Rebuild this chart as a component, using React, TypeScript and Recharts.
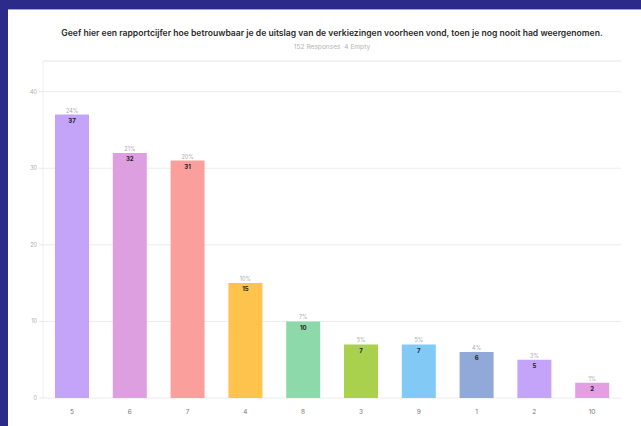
import React from "react";
import { BarChart, Bar, XAxis, YAxis, CartesianGrid, Cell, LabelList, ReferenceLine } from "recharts";

const categories = ["5", "6", "7", "4", "8", "3", "9", "1", "2", "10"];
const counts = [37, 32, 31, 15, 10, 7, 7, 6, 5, 2];
const percents = ["24%", "21%", "20%", "10%", "7%", "5%", "5%", "4%", "3%", "1%"];
const colors = ["#c3a4f8", "#de9fe1", "#fb9f9d", "#fdc34d", "#8ed9a9", "#a9d14d", "#82c9f5", "#90a9d8", "#c3a4f8", "#e2a0e3"];
const yTicks = [0, 10, 20, 30, 40];
const title = "Geef hier een rapportcijfer hoe betrouwbaar je de uitslag van de verkiezingen voorheen vond, toen je nog nooit had weergenomen.";
const subtitle = "152 Responses  4 Empty";

const data = categories.map((c, i) => ({ name: c, value: counts[i], pct: percents[i] }));

const font = "Inter, 'Noto Sans', sans-serif";

export default function App() {
  return (
    <div style={{ position: "absolute", left: 0, top: 0, width: 641, height: 426, background: "#2c2b89", overflow: "hidden", fontFamily: font }}>
      <div style={{ position: "absolute", left: 8, top: 9, width: 633, height: 1, background: "#a5a4d8" }} />
      <div style={{ position: "absolute", left: 8, top: 10, width: 633, height: 416, background: "#ffffff" }}>
        <div style={{ position: "absolute", left: 0, top: 18, width: 648, textAlign: "center", fontSize: 8.6, fontWeight: 600, color: "#2a2a2a", whiteSpace: "nowrap" }}>{title}</div>
        <div style={{ position: "absolute", left: 0, top: 33, width: 648, textAlign: "center", fontSize: 6.6, color: "#b4b4b4", whiteSpace: "pre" }}>{subtitle}</div>
        <div style={{ position: "absolute", left: 0, top: 0 }}>
          <BarChart width={633} height={416} data={data} margin={{ top: 51, right: 20, bottom: 8, left: 0 }} barSize={34}>
            <CartesianGrid vertical={false} stroke="#ececec" />
            <ReferenceLine y={44} stroke="#eeeeee" />
            <XAxis dataKey="name" axisLine={false} tickLine={false} height={20} tick={{ fontSize: 6.5, fill: "#777", fontFamily: font }} tickMargin={5} />
            <YAxis domain={[0, 44]} ticks={yTicks} width={35} axisLine={{ stroke: "#eeeeee" }} tickLine={{ stroke: "#e6e6e6" }} tickSize={4} tick={{ fontSize: 5.5, fill: "#aaa", fontFamily: font }} />
            <Bar dataKey="value" isAnimationActive={false}>
              {data.map((d, i) => (
                <Cell key={d.name} fill={colors[i]} />
              ))}
              <LabelList dataKey="pct" position="top" offset={2} style={{ fontSize: 5.5, fill: "#aaa", fontFamily: font }} />
              <LabelList dataKey="value" position="insideTop" offset={4} style={{ fontSize: 6, fontWeight: 700, fill: "#222", fontFamily: font }} />
            </Bar>
          </BarChart>
        </div>
      </div>
    </div>
  );
}
